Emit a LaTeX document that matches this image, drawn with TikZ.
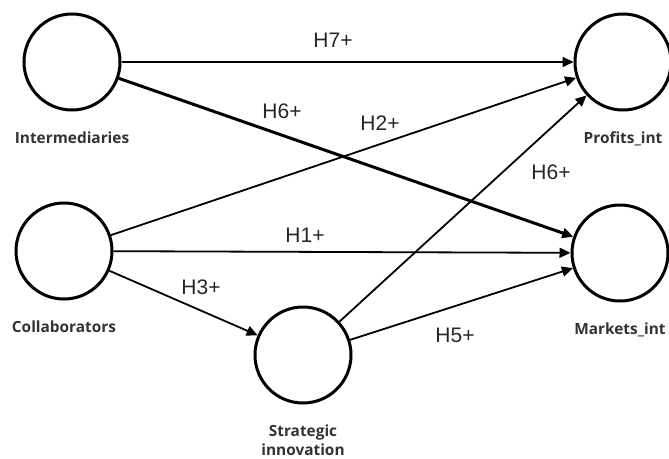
\documentclass[tikz,border=0pt]{standalone}
\usepackage{fontspec}
\setmainfont{Liberation Sans}
\newfontfamily\namefont{Open Sans}
\usetikzlibrary{arrows.meta,positioning}

\tikzset{
  construct/.style={circle, draw, fill=white, line width=3pt, minimum size=96pt, inner sep=0pt},
  cname/.style={font=\namefont\bfseries\fontsize{15.4}{19}\selectfont, text=black!80, inner sep=0pt, align=center},
  hyp/.style={font=\fontsize{21}{24}\selectfont, text=black!85, inner sep=0pt},
  link/.style={-{Triangle[length=11pt,width=10pt]}, line width=1.8pt},
  strong/.style={link, line width=3pt},
}

\begin{document}
\begin{tikzpicture}[x=1pt, y=-1pt]
		\useasboundingbox (0,0) rectangle (669,458);

		% Define nodes
		\node[construct] (int) at (72,62) {};
		\node[construct] (col) at (64,251) {};
		\node[construct] (strat) at (303,355) {};
		\node[construct] (prof) at (623,62) {};
		\node[construct] (mkt) at (620,253) {};

		\node[cname, below=20pt of int] (intname) {Intermediaries};
		\node[cname, below=20pt of col] (colname) {Collaborators};
		\node[cname, below=20pt of strat] (stratname) {Strategic\\innovation};
		\node[cname, below=20pt of prof] (profname) {Profits\_int};
		\node[cname, below=20pt of mkt] (mktname) {Markets\_int};

		% Connect the nodes
		\draw[link] (int) -- (prof);
		\draw[strong] (int) -- (mkt);
		\draw[link] (col) -- (prof);
		\draw[link] (col) -- (mkt);
		\draw[link] (col) -- (strat);
		\draw[link] (strat) -- (prof);
		\draw[link] (strat) -- (mkt);

		% Hypotheses
		\node[hyp] (h7) at (333,40.5) {H7+};
		\node[hyp] (h6a) at (282,111.5) {H6+};
		\node[hyp] (h2) at (380,123) {H2+};
		\node[hyp] (h1) at (305,235.5) {H1+};
		\node[hyp] (h3) at (201,287) {H3+};
		\node[hyp] (h5) at (455,335) {H5+};
		\node[hyp] (h6b) at (551,172) {H6+};
	\end{tikzpicture}
\end{document}
